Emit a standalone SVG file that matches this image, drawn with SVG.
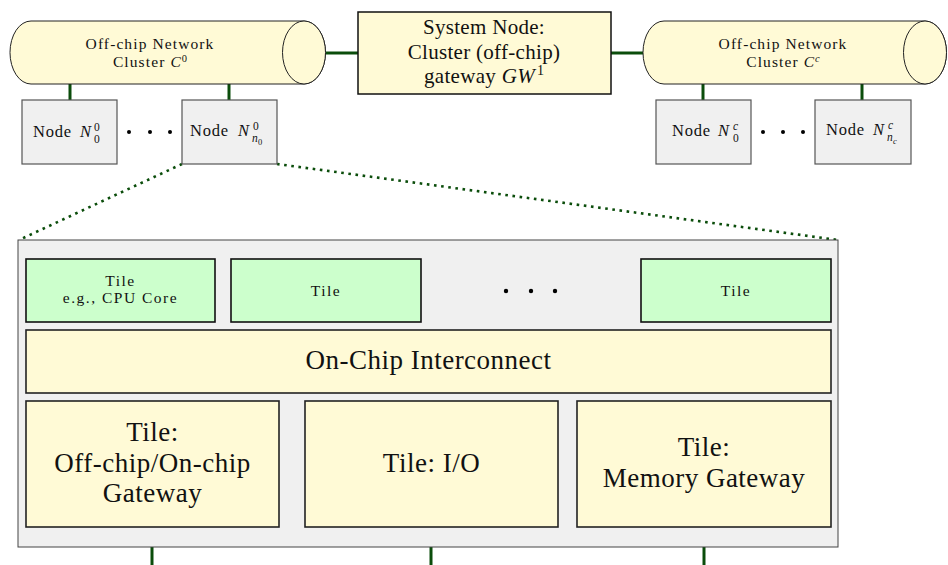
<svg xmlns="http://www.w3.org/2000/svg" width="948" height="565" viewBox="0 0 948 565">
<style>
.cyl{fill:#fffad6;stroke:#222;stroke-width:1}
.node{fill:#f0f0f0;stroke:#555;stroke-width:1.2}
.sys{fill:#fffad6;stroke:#111;stroke-width:1.5}
.gtile{fill:#ccffcc;stroke:#111;stroke-width:1.6}
.ytile{fill:#fffad6;stroke:#222;stroke-width:1.6}
.cont{fill:#f0f0f0;stroke:#444;stroke-width:1}
.link{stroke:#0b4d0b;stroke-width:3;fill:none}
.dotl{stroke:#0b4d0b;stroke-width:2.6;stroke-dasharray:2.6 4.6;fill:none}
text{font-family:"Liberation Serif","DejaVu Serif",serif;fill:#111;text-anchor:middle}
.st{text-anchor:start}
.s{font-size:15.5px;letter-spacing:1.1px}
.n{font-size:16.5px;letter-spacing:0.8px}
.t{font-size:15.5px;letter-spacing:1.5px}
.m{font-size:21px;letter-spacing:0.3px}
.l{font-size:27px;letter-spacing:0.5px}
.i{font-style:italic}
.sc{font-size:11.5px;letter-spacing:0}
.sx{font-size:10.5px;letter-spacing:0}
.ss{font-size:8.5px;letter-spacing:0}
.sm2{font-size:14px;letter-spacing:0}
</style>
<rect width="948" height="565" fill="#fff"/>
<g id="connectors">
<line class="link" x1="326" y1="53" x2="358" y2="53"/>
<line class="link" x1="611" y1="53" x2="643" y2="53"/>
<line class="link" x1="70" y1="84" x2="70" y2="100"/>
<line class="link" x1="229" y1="84" x2="229" y2="100"/>
<line class="link" x1="703" y1="84" x2="703" y2="100"/>
<line class="link" x1="862" y1="84" x2="862" y2="100"/>
<line class="dotl" x1="182" y1="164" x2="19" y2="240"/>
<line class="dotl" x1="277" y1="164" x2="838" y2="240"/>
<line class="link" x1="152" y1="527" x2="152" y2="565"/>
<line class="link" x1="431" y1="527" x2="431" y2="565"/>
<line class="link" x1="704" y1="527" x2="704" y2="565"/>
</g>
<g id="cluster0">
<path class="cyl" d="M31,21 L304,21 A21.5,31.5 0 0 1 304,84 L31,84 A21,31.5 0 0 1 31,21 Z"/>
<ellipse class="cyl" cx="304" cy="52.5" rx="21.5" ry="31.5"/>
<text class="s" x="150" y="49">Off-chip Network</text>
<text class="s" x="150" y="67">Cluster <tspan class="i">C</tspan><tspan class="sx" dy="-5">0</tspan></text>
</g>
<g id="clusterC">
<path class="cyl" d="M664,21 L925,21 A21.5,31.5 0 0 1 925,84 L664,84 A21,31.5 0 0 1 664,21 Z"/>
<ellipse class="cyl" cx="925" cy="52.5" rx="21.5" ry="31.5"/>
<text class="s" x="783" y="49">Off-chip Network</text>
<text class="s" x="783" y="67">Cluster <tspan class="i">C</tspan><tspan class="sx i" dy="-5">c</tspan></text>
</g>
<g id="system-node">
<rect class="sys" x="358" y="12" width="253" height="82"/>
<text class="m" x="484" y="34">System Node:</text>
<text class="m" x="484" y="59">Cluster (off-chip)</text>
<text class="m" x="484" y="83">gateway <tspan class="i">GW</tspan><tspan class="sm2" dx="2" dy="-8">1</tspan></text>
</g>
<g id="node-0-0">
<rect class="node" x="22" y="100" width="95" height="64"/>
<text class="n st" x="33" y="137">Node</text>
<text class="n st i" x="80" y="137">N</text>
<text class="sc st" x="94" y="131">0</text>
<text class="sc st" x="94" y="143">0</text>
</g>
<g id="node-0-n0">
<rect class="node" x="182" y="100" width="95" height="64"/>
<text class="n st" x="190" y="136">Node</text>
<text class="n st i" x="238" y="136">N</text>
<text class="sc st" x="253" y="130">0</text>
<text class="sc st i" x="252" y="142">n</text>
<text class="ss st" x="258" y="145">0</text>
</g>
<g id="dots-0">
<circle cx="129" cy="132" r="2"/><circle cx="150" cy="132" r="2"/><circle cx="170" cy="132" r="2"/>
</g>
<g id="node-c-0">
<rect class="node" x="656" y="100" width="95" height="64"/>
<text class="n st" x="672" y="136">Node</text>
<text class="n st i" x="718" y="136">N</text>
<text class="sc st i" x="733" y="130">c</text>
<text class="sc st" x="733" y="142">0</text>
</g>
<g id="node-c-nc">
<rect class="node" x="815" y="100" width="96" height="64"/>
<text class="n st" x="826" y="135">Node</text>
<text class="n st i" x="873" y="135">N</text>
<text class="sc st i" x="888" y="129">c</text>
<text class="sc st i" x="887" y="141">n</text>
<text class="ss st i" x="893" y="144">c</text>
</g>
<g id="dots-c">
<circle cx="763" cy="132" r="2"/><circle cx="783" cy="132" r="2"/><circle cx="803" cy="132" r="2"/>
</g>
<g id="chip">
<rect class="cont" x="18" y="240" width="820" height="307"/>
</g>
<g id="tile-cpu">
<rect class="gtile" x="26" y="259" width="189" height="63"/>
<text class="t" x="120.5" y="286">Tile</text>
<text class="t" x="120.5" y="303">e.g., CPU Core</text>
</g>
<g id="tile-2">
<rect class="gtile" x="231" y="259" width="190" height="63"/>
<text class="t" x="326" y="296">Tile</text>
</g>
<g id="dots-tiles">
<circle cx="506" cy="291" r="2.2"/><circle cx="531" cy="291" r="2.2"/><circle cx="555" cy="291" r="2.2"/>
</g>
<g id="tile-n">
<rect class="gtile" x="641" y="259" width="190" height="63"/>
<text class="t" x="736" y="296">Tile</text>
</g>
<g id="interconnect">
<rect class="ytile" x="26" y="330" width="805" height="63"/>
<text class="l" x="428.5" y="369">On-Chip Interconnect</text>
</g>
<g id="tile-gateway">
<rect class="ytile" x="26" y="401" width="253" height="126"/>
<text class="l" x="152.5" y="441">Tile:</text>
<text class="l" x="152.5" y="472">Off-chip/On-chip</text>
<text class="l" x="152.5" y="502">Gateway</text>
</g>
<g id="tile-io">
<rect class="ytile" x="305" y="401" width="253" height="126"/>
<text class="l" x="431.5" y="472">Tile: I/O</text>
</g>
<g id="tile-mem">
<rect class="ytile" x="577" y="401" width="254" height="126"/>
<text class="l" x="704" y="456">Tile:</text>
<text class="l" x="704" y="487">Memory Gateway</text>
</g>
</svg>
